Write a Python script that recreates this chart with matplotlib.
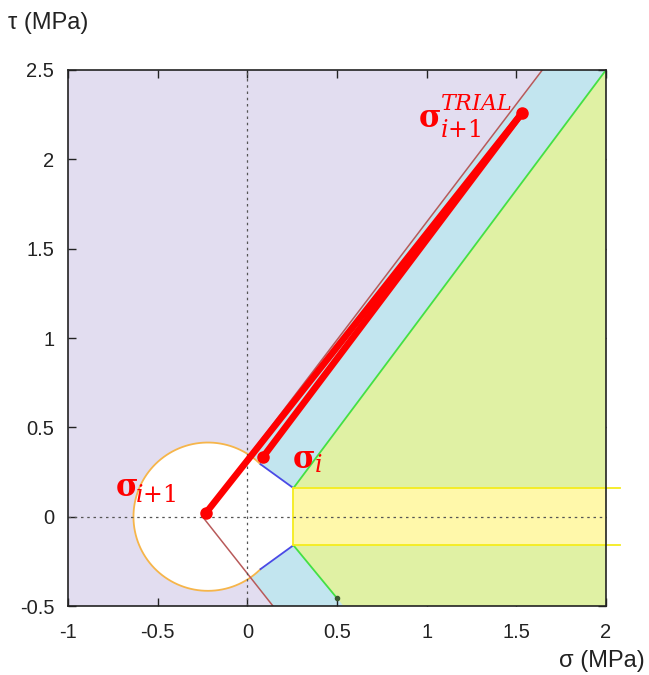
import matplotlib
matplotlib.use("Agg")
import matplotlib.pyplot as plt
import numpy as np
from matplotlib.patches import Polygon

plt.rcParams['font.family'] = ['Liberation Sans', 'DejaVu Sans']
plt.rcParams['mathtext.fontset'] = 'custom'
plt.rcParams['mathtext.rm'] = 'DejaVu Serif'
plt.rcParams['mathtext.it'] = 'DejaVu Serif:italic'
plt.rcParams['mathtext.bf'] = 'DejaVu Serif:bold'

# stress states (sigma, tau) in MPa: sigma_{i+1}, sigma_i, trial
state_sig = [-0.23, 0.089, 1.53]
state_tau = [0.022, 0.336, 2.257]

# labels: main symbol, subscript, superscript and where they sit
sym_sig = [-0.738, 0.249, 0.952]
sym_tau = [0.158, 0.317, 2.228]
sub_txt = [r"$i{+}1$", r"$i$", r"$i{+}1$"]
sub_sig = [-0.625, 0.372, 1.075]
sub_tau = [0.118, 0.284, 2.158]
sup_txt = [None, None, r"$TRIAL$"]
sup_sig = [None, None, 1.075]
sup_tau = [None, None, 2.309]

# tension cap circle
cap_c = -0.22
cap_r = 0.415
cap_open = 45.0  # deg, where the cap meets the blue normals

# Mohr-Coulomb cone (brown)
cone_sig = [1.645, -0.25, 0.143]
cone_tau = [2.5, 0.0, -0.5]

# green boundaries, upper and lower
gup_sig = [0.257, 2.0]
gup_tau = [0.16, 2.5]
glo_sig = [0.257, 0.50]
glo_tau = [-0.16, -0.456]

# yellow strip
strip_sig = [0.257, 2.08]
strip_tau = [-0.16, 0.16]

xlim = (-1, 2)
ylim = (-0.5, 2.5)

fig = plt.figure(figsize=(6.49, 6.75), dpi=100)
ax = fig.add_axes([0.1048, 0.1022, 0.8289, 0.7941])
ax.set_xlim(*xlim)
ax.set_ylim(*ylim)
ax.set_facecolor('#e2ddf0')

# light blue zone right of the cone
ax.add_patch(Polygon([(cone_sig[1], cone_tau[1]), (cone_sig[0], cone_tau[0]), (xlim[1], ylim[1]),
                      (xlim[1], ylim[0]), (cone_sig[2], cone_tau[2])],
                     closed=True, fc='#c2e5ef', ec='none', zorder=1))

# green-yellow zone
gslope = (glo_tau[1] - glo_tau[0]) / (glo_sig[1] - glo_sig[0])
g_bot = glo_sig[0] + (ylim[0] - glo_tau[0]) / gslope
ax.add_patch(Polygon([(gup_sig[0], gup_tau[0]), (gup_sig[1], gup_tau[1]), (xlim[1], ylim[1]),
                      (xlim[1], ylim[0]), (g_bot, ylim[0]), (glo_sig[0], glo_tau[0])],
                     closed=True, fc='#e0f1a4', ec='none', zorder=2))

# yellow strip
ax.add_patch(Polygon([(strip_sig[0], strip_tau[0]), (xlim[1], strip_tau[0]),
                      (xlim[1], strip_tau[1]), (strip_sig[0], strip_tau[1])],
                     closed=True, fc='#fff8aa', ec='none', zorder=3))

# white elastic region: circle + wedge up to the strip
th = np.linspace(0, 2 * np.pi, 300)
ax.add_patch(Polygon(np.c_[cap_c + cap_r * np.cos(th), cap_r * np.sin(th)],
                     closed=True, fc='white', ec='none', zorder=4))
a0 = np.radians(cap_open)
p_up = (cap_c + cap_r * np.cos(a0), cap_r * np.sin(a0))
p_lo = (cap_c + cap_r * np.cos(a0), -cap_r * np.sin(a0))
ax.add_patch(Polygon([p_up, (strip_sig[0], strip_tau[1]), (strip_sig[0], strip_tau[0]), p_lo],
                     closed=True, fc='white', ec='none', zorder=4))

# orange cap arc
ta = np.radians(np.linspace(cap_open, 360 - cap_open, 200))
ax.plot(cap_c + cap_r * np.cos(ta), cap_r * np.sin(ta), color='#f6b54a', lw=1.3, zorder=5)

# blue normals
ax.plot([p_up[0], strip_sig[0]], [p_up[1], strip_tau[1]], color='#4a4ae6', lw=1.3, zorder=5)
ax.plot([p_lo[0], strip_sig[0]], [p_lo[1], strip_tau[0]], color='#4a4ae6', lw=1.3, zorder=5)

# green lines
ax.plot(gup_sig, gup_tau, color='#44e044', lw=1.3, zorder=5)
ax.plot(glo_sig, glo_tau, color='#44e044', lw=1.3, zorder=5)
ax.plot(glo_sig[1], glo_tau[1], 'o', color='#3c5a30', ms=3, zorder=5)

# yellow strip borders
ax.plot(strip_sig, [strip_tau[1]] * 2, color='#f4ec1c', lw=1.3, zorder=5, clip_on=False)
ax.plot(strip_sig, [strip_tau[0]] * 2, color='#f4ec1c', lw=1.3, zorder=5, clip_on=False)
ax.plot([strip_sig[0]] * 2, strip_tau, color='#f4ec1c', lw=1.3, zorder=5)

# cone (brown)
ax.plot(cone_sig, cone_tau, color='#b85a5a', lw=1.1, zorder=5)

# dotted axes
ax.axvline(0, color='#555555', lw=0.9, ls=(0, (2, 3)), zorder=6)
ax.axhline(0, color='#555555', lw=0.9, ls=(0, (2, 3)), zorder=6)

# return paths
for k in (0, 1):
    ax.plot([state_sig[2], state_sig[k]], [state_tau[2], state_tau[k]], color='#ff0000', lw=4.8,
            solid_capstyle='round', zorder=7)
ax.plot(state_sig, state_tau, 'o', color='#ff0000', ms=8, ls='none', zorder=8)

# labels
for k in range(3):
    ax.text(sym_sig[k], sym_tau[k], r"$\mathbf{\sigma}$", color='#ff0000', fontsize=22,
            ha='left', va='center', zorder=9)
    ax.text(sub_sig[k], sub_tau[k], sub_txt[k], color='#ff0000', fontsize=17,
            ha='left', va='center', zorder=9)
    if sup_txt[k]:
        ax.text(sup_sig[k], sup_tau[k], sup_txt[k], color='#ff0000', fontsize=16,
                ha='left', va='center', zorder=9)

ax.set_xticks([-1, -0.5, 0, 0.5, 1, 1.5, 2])
ax.set_xticklabels(['-1', '-0.5', '0', '0.5', '1', '1.5', '2'])
ax.set_yticks([-0.5, 0, 0.5, 1, 1.5, 2, 2.5])
ax.set_yticklabels(['-0.5', '0', '0.5', '1', '1.5', '2', '2.5'])
ax.tick_params(axis='both', direction='in', top=True, right=True, length=6, width=1, labelsize=14.5,
               colors='#222222')
ax.tick_params(axis='x', pad=12)
ax.tick_params(axis='y', pad=10)
for sp in ax.spines.values():
    sp.set_color('#222222')
    sp.set_linewidth(1.2)
    sp.set_zorder(10)

fig.text(0.012, 0.966, r"τ (MPa)", fontsize=17, ha='left', va='center', color='#222222')
fig.text(0.994, 0.021, r"σ (MPa)", fontsize=17, ha='right', va='center', color='#222222')

fig.savefig('out.png', dpi=100)
